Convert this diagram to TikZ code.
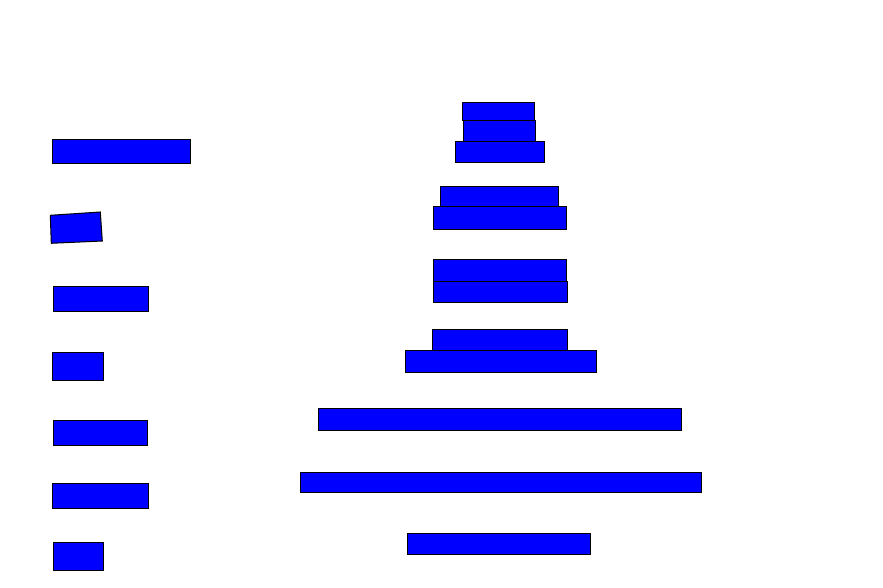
\documentclass[tikz,border=0pt]{standalone}
\begin{document}
\begin{tikzpicture}[x=1pt,y=-1pt]
\tikzset{box/.style={draw=black,fill=blue,line width=1pt}}
\useasboundingbox (0,0) rectangle (883,588);
% left column
\draw[box] (52,140) rectangle (190,164);
\draw[box] (50.3,215.3) -- (100.3,212) -- (102.3,241) -- (51.3,243.3) -- cycle;
\draw[box] (53,286) rectangle (148,311);
\draw[box] (52,352) rectangle (103,380);
\draw[box] (53,420) rectangle (147,445);
\draw[box] (52,483) rectangle (148,508);
\draw[box] (53,542) rectangle (103,570);
% center column
\draw[box] (462,103) rectangle (534,121);
\draw[box] (463,121) rectangle (535,142);
\draw[box] (455,142) rectangle (544,163);
\draw[box] (440,187) rectangle (558,207);
\draw[box] (433,207) rectangle (566,229);
\draw[box] (433,259) rectangle (566,281);
\draw[box] (433,281) rectangle (567,302);
\draw[box] (432,329) rectangle (567,350);
\draw[box] (405,350) rectangle (596,372);
\draw[box] (318,408) rectangle (681,430);
\draw[box] (300,472) rectangle (701,492);
\draw[box] (407,533) rectangle (590,554);
\end{tikzpicture}
\end{document}
